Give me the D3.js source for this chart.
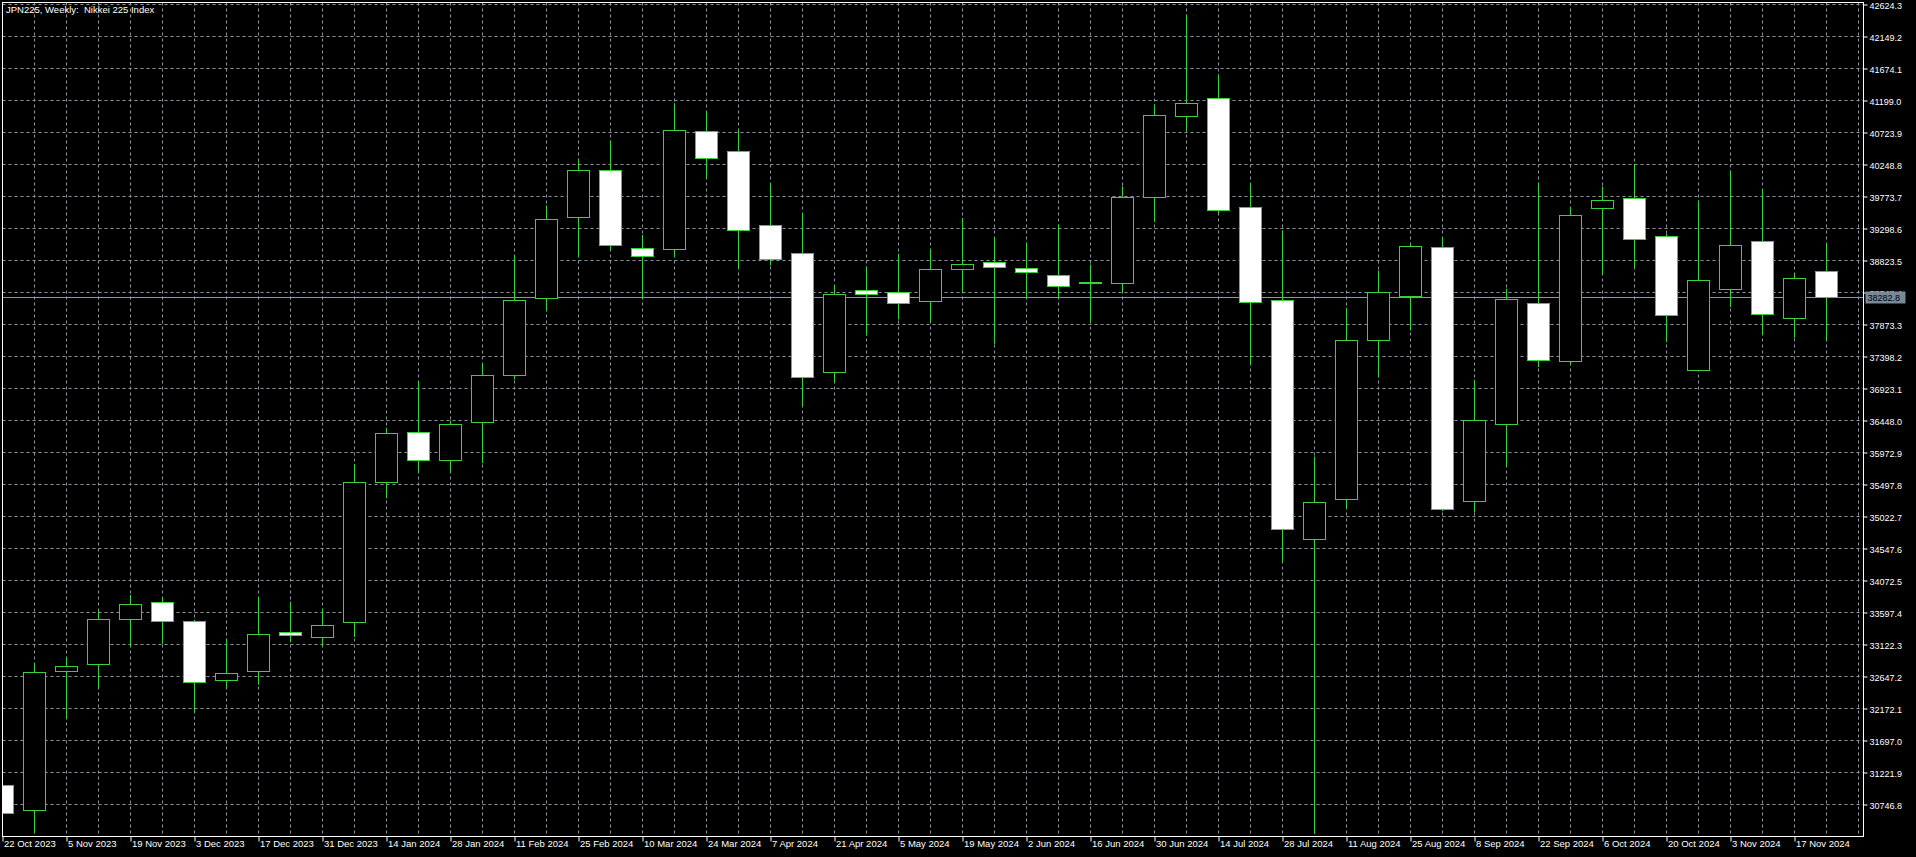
<!DOCTYPE html>
<html>
<head>
<meta charset="utf-8">
<script src="https://cdn.jsdelivr.net/npm/d3@7"></script>
<style>
html, body { margin: 0; padding: 0; background: #000; overflow: hidden; }
svg { display: block; }
</style>
</head>
<body>
<svg id="chart"></svg>
<script>
// weekly bars, JPN225
var weeks = [
    "2023-10-22","2023-10-29","2023-11-05","2023-11-12","2023-11-19","2023-11-26","2023-12-03","2023-12-10",
    "2023-12-17","2023-12-24","2023-12-31","2024-01-07","2024-01-14","2024-01-21","2024-01-28","2024-02-04",
    "2024-02-11","2024-02-18","2024-02-25","2024-03-03","2024-03-10","2024-03-17","2024-03-24","2024-03-31",
    "2024-04-07","2024-04-14","2024-04-21","2024-04-28","2024-05-05","2024-05-12","2024-05-19","2024-05-26",
    "2024-06-02","2024-06-09","2024-06-16","2024-06-23","2024-06-30","2024-07-07","2024-07-14","2024-07-21",
    "2024-07-28","2024-08-04","2024-08-11","2024-08-18","2024-08-25","2024-09-01","2024-09-08","2024-09-15",
    "2024-09-22","2024-09-29","2024-10-06","2024-10-13","2024-10-20","2024-10-27","2024-11-03","2024-11-10",
    "2024-11-17","2024-11-24"
];
var open = [
    31039.2,30668.0,32731.7,32829.8,33497.9,33756.2,33474.1,32598.1,32731.7,33305.1,
    33230.8,33459.3,35537.8,36284.6,35864.5,36428.7,37126.5,38269.7,39466.3,40170.1,
    39012.0,38991.2,40743.2,40446.3,39347.6,38931.9,37171.0,38382.5,38358.8,38225.1,
    38691.3,38804.2,38707.7,38609.7,38479.0,38487.9,39761.8,40971.8,41239.1,39616.3,
    38244.4,34691.6,35285.4,37646.1,38289.0,39020.9,35249.8,36399.0,38189.5,37328.4,
    39605.9,39754.4,39184.3,37200.7,38403.3,39110.0,37972.8,38664.6
];
var high = [
    31100.0,32844.6,32933.7,33627.0,33860.1,33824.5,33490.0,33206.9,33824.5,33760.7,
    33652.3,35805.1,36339.6,37031.4,36448.0,37298.8,38897.7,39640.1,40333.4,40605.1,
    39205.0,41158.9,41040.1,40768.4,39971.2,39525.8,38462.7,38734.4,38923.0,38997.2,
    39454.5,39169.4,39089.2,39356.5,38764.1,39925.1,41141.1,42472.9,41588.0,39965.2,
    39268.9,35913.5,38121.2,38675.0,39071.0,39169.4,37052.2,38403.3,39977.1,39614.8,
    39922.2,40259.2,39219.9,39714.3,40159.7,39888.0,38634.9,39080.3
];
var low = [
    30550.0,30320.6,32019.1,32464.5,33082.1,33132.6,32117.1,32464.5,32523.9,33156.4,
    33092.5,33230.8,35294.3,35671.5,35671.5,35814.0,37056.7,38070.7,38872.5,38967.5,
    38254.8,38872.5,40030.5,38700.2,38749.2,36655.8,37007.7,37710.0,37947.5,37907.4,
    38342.4,37586.8,38260.8,38260.8,37895.5,38342.4,39396.6,40735.8,39518.3,37270.5,
    34339.7,30308.7,35137.0,37090.8,37784.2,35101.4,35086.5,35754.6,37239.3,37279.4,
    38611.2,38715.1,37610.5,37190.3,38130.1,37720.3,37675.8,37625.3
];
var close = [
    30623.5,32716.9,32805.9,33503.8,33726.5,33474.1,32568.5,32702.1,33281.1,33266.3,
    33414.9,35537.8,36259.4,35868.9,36393.0,37126.5,38240.0,39436.7,40170.1,39056.6,
    38893.3,40764.0,40348.3,39279.3,38848.8,37086.4,38329.1,38329.1,38195.5,38694.3,
    38771.5,38731.4,38649.8,38439.0,38499.8,39761.8,40979.3,41157.4,39583.6,38211.8,
    34840.0,35245.4,37646.1,38352.8,39035.8,35137.0,36458.4,38254.8,37349.2,39502.0,
    39724.7,39145.7,38017.3,38536.9,39056.6,38032.1,38566.6,38282.8
];
var priceTicks = [
    "42624.3","42149.2","41674.1","41199.0","40723.9","40248.8","39773.7","39298.6","38823.5",
    "38348.4","37873.3","37398.2","36923.1","36448.0","35972.9","35497.8","35022.7","34547.6",
    "34072.5","33597.4","33122.3","32647.2","32172.1","31697.0","31221.9","30746.8"
];
var lastPrice = 38282.8;
var title = "JPN225, Weekly:  Nikkei 225 Index";

var W = 1916, H = 857;
var L = 2.5, T = 2.5, R = 1863.5, B = 836.5;
var green = "#3ad23a", gridCol = "#8e959e", lineCol = "#8797a8";

var svg = d3.select("#chart").attr("width", W).attr("height", H)
    .style("background", "#000")
    .style("font-family", "'Liberation Sans', Arial, sans-serif");

var parse = d3.timeParse("%Y-%m-%d"), fmt = d3.timeFormat("%-d %b %Y");
var x = d3.scalePoint().domain(weeks).range([2.5, 1826.5]);
var y = d3.scaleLinear().domain([+priceTicks[0], +priceTicks[priceTicks.length - 1]]).range([4.5, 804.5]);
var step = x.step();

svg.append("defs").append("clipPath").attr("id", "plot")
    .append("rect").attr("x", L).attr("y", T).attr("width", R - L).attr("height", B - T);

// grid
var gx = weeks.map(function(d){ return x(d); });
gx.push(gx[gx.length - 1] + step);
var grid = svg.append("g").attr("stroke", gridCol).attr("stroke-width", 1).attr("stroke-dasharray", "3,3");
grid.selectAll(".gv").data(gx).enter().append("line").attr("class", "gv")
    .attr("x1", function(d){ return d; }).attr("x2", function(d){ return d; })
    .attr("y1", T).attr("y2", B);
grid.selectAll(".gh").data(priceTicks).enter().append("line").attr("class", "gh")
    .attr("x1", L).attr("x2", R)
    .attr("y1", function(d){ return y(+d); }).attr("y2", function(d){ return y(+d); });

// bid line
svg.append("line")
    .attr("x1", L).attr("x2", R)
    .attr("y1", Math.round(y(lastPrice)) + 0.5).attr("y2", Math.round(y(lastPrice)) + 0.5)
    .attr("stroke", lineCol).attr("stroke-width", 1);

// candles
var bars = weeks.map(function(d, i){
    return {week: d, o: open[i], h: high[i], l: low[i], c: close[i]};
});
var candles = svg.append("g").attr("clip-path", "url(#plot)")
    .selectAll("g").data(bars).enter().append("g");

candles.append("line")
    .attr("x1", function(d){ return x(d.week); }).attr("x2", function(d){ return x(d.week); })
    .attr("y1", function(d){ return y(d.h); }).attr("y2", function(d){ return y(d.l); })
    .attr("stroke", green).attr("stroke-width", 1);

candles.append("rect")
    .attr("x", function(d){ return x(d.week) - 11; })
    .attr("width", 22)
    .attr("y", function(d){ return Math.round(y(Math.max(d.o, d.c))) + 0.5; })
    .attr("height", function(d){ return Math.max(1, Math.round(Math.abs(y(d.o) - y(d.c)))); })
    .attr("fill", function(d){ return d.c >= d.o ? "#000" : "#fff"; })
    .attr("stroke", green).attr("stroke-width", 1);

// axes
var yAxis = svg.append("g").attr("transform", "translate(" + R + ",0)")
    .call(d3.axisRight(y).tickValues(priceTicks.map(Number)).tickSize(4)
        .tickFormat(function(d){ return d.toFixed(1); }));
yAxis.select(".domain").remove();
yAxis.selectAll("line").attr("stroke", "#fff");
yAxis.selectAll("text").attr("fill", "#fff").attr("x", 6).attr("dy", "0.4em")
    .style("font-size", "9px");

var xAxis = svg.append("g").attr("transform", "translate(0," + B + ")")
    .call(d3.axisBottom(x).tickValues(weeks.filter(function(d, i){ return i % 2 === 0; }))
        .tickSize(5).tickFormat(function(d){ return fmt(parse(d)); }));
xAxis.select(".domain").remove();
xAxis.selectAll("line").attr("stroke", "#fff");
xAxis.selectAll("text").attr("fill", "#fff").attr("text-anchor", "start")
    .attr("x", 1).attr("y", 4).attr("dy", "0.71em").style("font-size", "9.5px");

// price label
var py = Math.round(y(lastPrice)) + 0.5;
svg.append("rect").attr("x", R + 2).attr("y", py - 6).attr("width", 40).attr("height", 12)
    .attr("fill", "#778899");
svg.append("text").attr("x", R + 4).attr("y", py).attr("dy", "0.35em")
    .attr("fill", "#000").style("font-size", "9px").text(lastPrice.toFixed(1));

// frame
svg.append("rect").attr("x", L).attr("y", T).attr("width", R - L).attr("height", B - T)
    .attr("fill", "none").attr("stroke", "#fff").attr("stroke-width", 1);

svg.append("text").attr("x", 6).attr("y", 13).attr("fill", "#fff")
    .style("font-size", "9.5px").style("white-space", "pre").text(title);
</script>
</body>
</html>
